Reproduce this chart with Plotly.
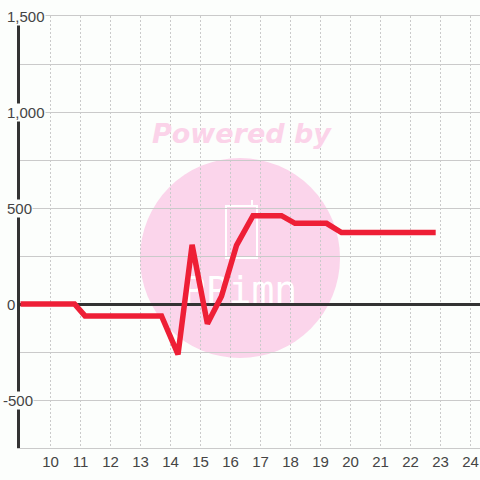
import plotly.graph_objects as go

# data
x_vals = [9.0, 10.8, 11.15, 13.7, 14.25, 14.72, 15.23, 15.7, 16.2, 16.75, 17.7, 18.15, 19.2, 19.7, 22.84]
y_vals = [0, 0, -62, -62, -262, 308, -103, 40, 305, 460, 460, 420, 420, 372, 372]
x_ticks = list(range(10, 25))
y_tick_vals = [1500, 1000, 500, 0, -500]
y_tick_text = ["1,500", "1,000", "500", "0", "-500"]

BG = "#fcfefc"
GRID = "#cacaca"
W, H = 480, 480
ML, MR, MT, MB = 20, 0, 16, 32
PW, PH = W - ML - MR, H - MT - MB


def px_x(p):
    return (p - ML) / PW


def px_y(p):
    return (H - MB - p) / PH


fig = go.Figure()
fig.add_trace(go.Scatter(
    x=x_vals, y=y_vals, mode="lines",
    line=dict(color="#ee1f36", width=5.5),
    hoverinfo="skip", showlegend=False,
))

shapes = [
    # watermark circle
    dict(type="circle", xref="paper", yref="paper",
         x0=px_x(140), x1=px_x(340), y0=px_y(358), y1=px_y(158),
         fillcolor="#fbd5eb", line=dict(width=0), layer="below"),
    # phone outline
    dict(type="rect", xref="paper", yref="paper",
         x0=px_x(226), x1=px_x(257), y0=px_y(258), y1=px_y(206),
         fillcolor="rgba(0,0,0,0)", line=dict(color="white", width=2), layer="between"),
    dict(type="line", xref="paper", yref="paper",
         x0=px_x(252), x1=px_x(252), y0=px_y(206), y1=px_y(200),
         line=dict(color="white", width=2), layer="between"),
    # logo letters
    dict(type="rect", xref="paper", yref="paper",
         x0=px_x(170), x1=px_x(310), y0=px_y(305), y1=px_y(268),
         fillcolor="rgba(0,0,0,0)", line=dict(width=0), layer="between",
         label=dict(text="PPimn", font=dict(family="DejaVu Sans Mono", size=38, color="white"),
                    textposition="middle center")),
]

annotations = [
    dict(text="<b><i>Powered by</i></b>", xref="paper", yref="paper",
         x=px_x(242), y=px_y(133), xanchor="center", yanchor="middle",
         showarrow=False, font=dict(family="DejaVu Sans", size=27, color="#fbd3e9")),
]
for v, t in zip(y_tick_vals, y_tick_text):
    annotations.append(dict(
        text=t, xref="paper", yref="y", x=px_x(6), y=v,
        xanchor="left", yanchor="middle", xshift=-4 if v < 0 else 0,
        showarrow=False, bgcolor=BG, borderpad=0,
        font=dict(family="Liberation Sans", size=15, color="#444444"),
    ))

fig.update_layout(
    width=W, height=H,
    margin=dict(l=ML, r=MR, t=MT, b=MB, autoexpand=False),
    paper_bgcolor=BG, plot_bgcolor=BG,
    shapes=shapes, annotations=annotations,
    xaxis=dict(range=[8.983, 24.317], tickvals=x_ticks, ticks="", automargin=False,
               showgrid=True, gridcolor=GRID, gridwidth=1, griddash="2px,2px",
               showline=True, linecolor=GRID, linewidth=1, mirror=True,
               zeroline=False,
               tickfont=dict(family="Liberation Sans", size=15, color="#444444")),
    yaxis=dict(range=[-750, 1500], dtick=250, showticklabels=False, ticks="", automargin=False,
               showgrid=True, gridcolor=GRID, gridwidth=1,
               zeroline=True, zerolinecolor="#333333", zerolinewidth=3,
               showline=True, linecolor="#333333", linewidth=3),
)

fig.write_html(
    "out.html",
    config={"displayModeBar": False},
    post_script="document.body.style.margin='0';document.body.style.padding='0';"
                "document.body.style.overflow='hidden';"
                "document.body.style.background='" + BG + "';",
)
